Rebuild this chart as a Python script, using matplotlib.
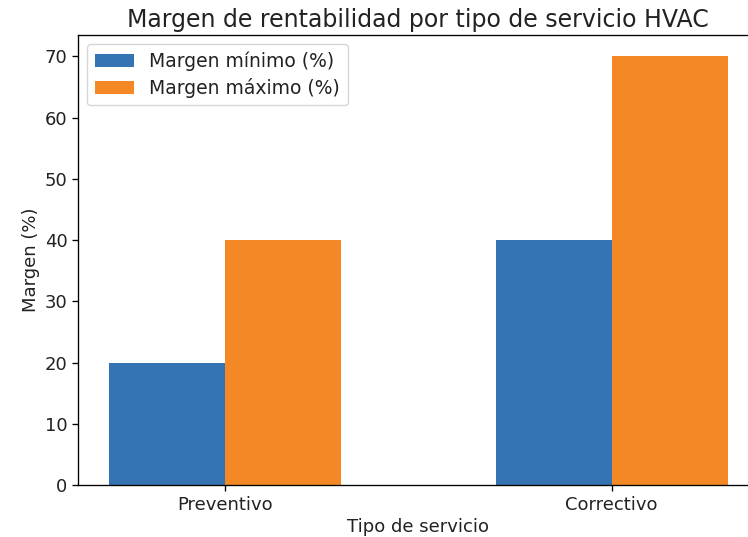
import matplotlib
matplotlib.use('Agg')
import matplotlib.pyplot as plt
import numpy as np

# datos
tipos = ['Preventivo', 'Correctivo']
margen_min = [20, 40]
margen_max = [40, 70]

s = 1.2  # imagen original escalada
plt.rcParams['font.size'] = 13
plt.rcParams['text.color'] = '#222222'
plt.rcParams['axes.labelcolor'] = '#222222'
plt.rcParams['xtick.labelcolor'] = '#222222'
plt.rcParams['ytick.labelcolor'] = '#222222'
plt.rcParams['axes.linewidth'] = 0.8 * s
plt.rcParams['xtick.major.width'] = 0.8 * s
plt.rcParams['ytick.major.width'] = 0.8 * s
plt.rcParams['xtick.major.size'] = 3.5 * s
plt.rcParams['ytick.major.size'] = 3.5 * s

fig = plt.figure(figsize=(7.48, 5.37), dpi=100)
ax = fig.add_axes([0.1043, 0.0968, 0.910, 0.838])

x = np.arange(len(tipos))
w = 0.3
ax.bar(x - w / 2, margen_min, w, color='#3574b2', label='Margen mínimo (%)')
ax.bar(x + w / 2, margen_max, w, color='#f48825', label='Margen máximo (%)')

ax.set_xticks(x)
ax.set_xticklabels(tipos)
ax.set_xlabel('Tipo de servicio', labelpad=3)
ax.set_ylabel('Margen (%)', labelpad=3)
ax.set_title('Margen de rentabilidad por tipo de servicio HVAC', fontsize=17, pad=6)
ax.legend(loc='upper left', labelspacing=0.35, handlelength=2.1, fontsize=13.5)

fig.savefig('out.png', dpi=100)
